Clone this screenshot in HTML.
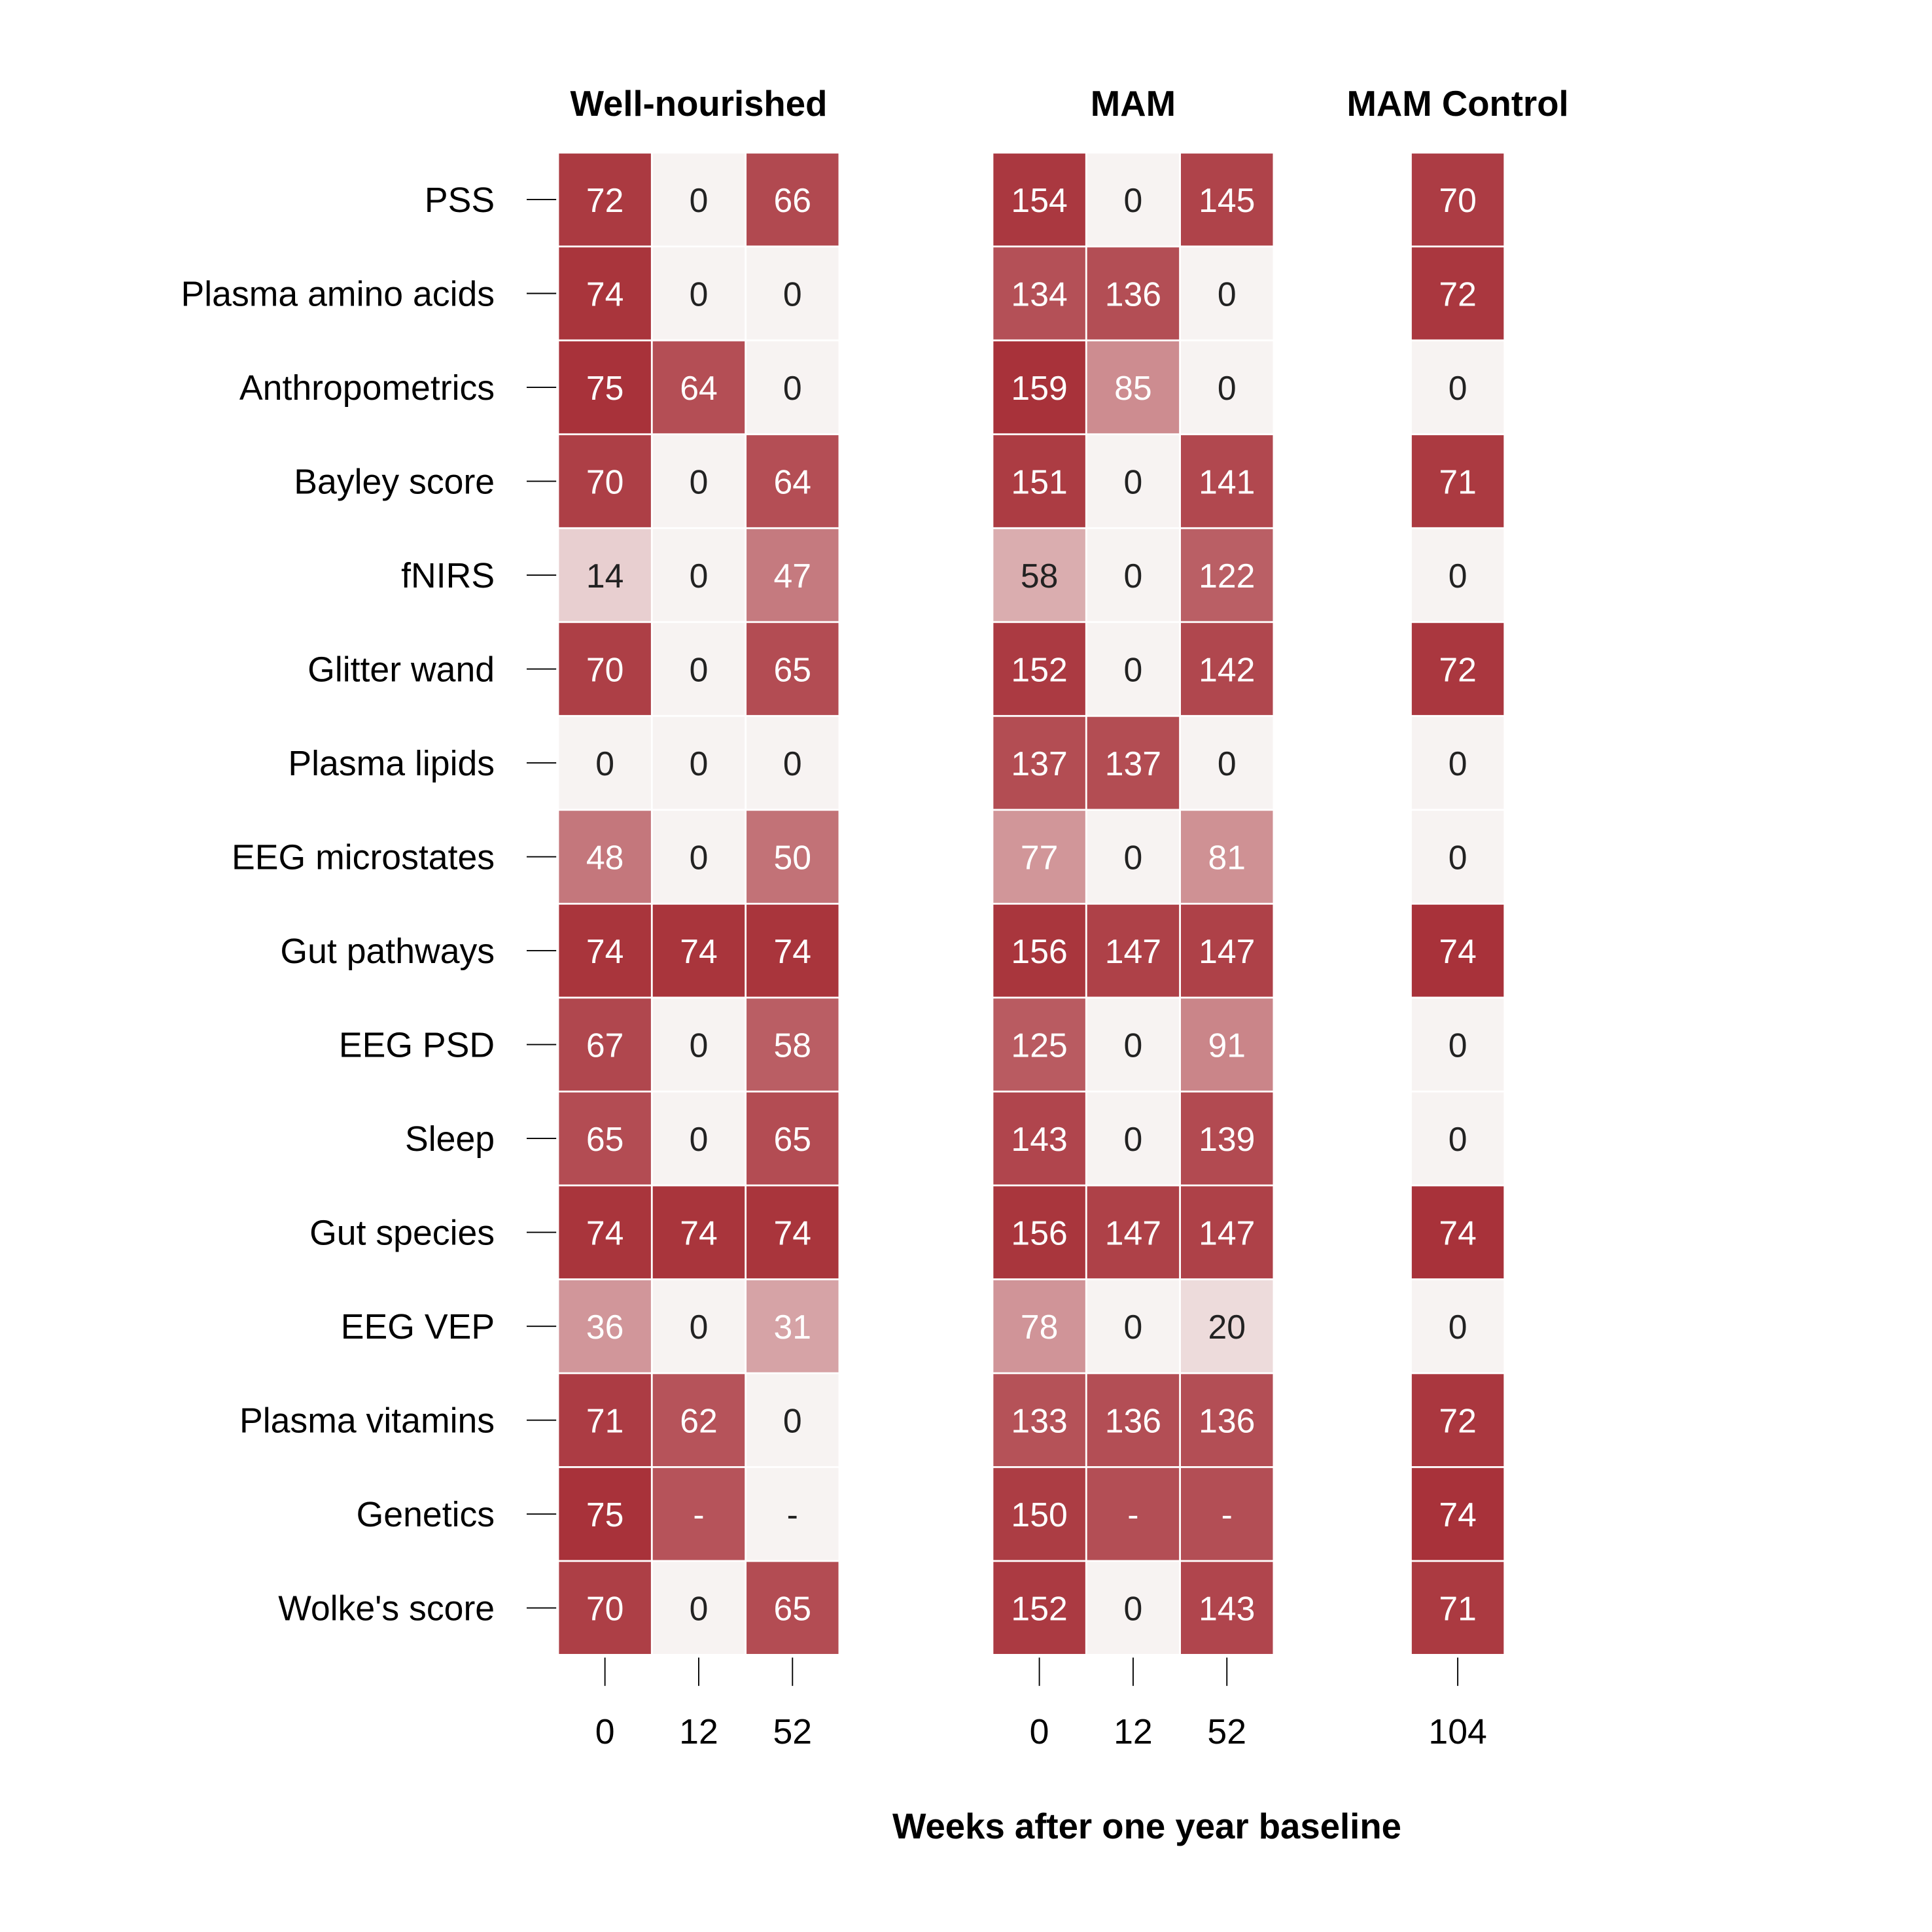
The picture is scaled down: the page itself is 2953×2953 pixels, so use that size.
<!DOCTYPE html>
<html><head><meta charset="utf-8"><style>
html,body{margin:0;padding:0;background:#fff;}
svg{display:block;}
text{font-family:"Liberation Sans",Arial,sans-serif;}
</style></head><body>
<svg id="chart" width="2953" height="2953" viewBox="0 0 1570 1570" xmlns="http://www.w3.org/2000/svg"></svg>
<script>
const rowLabels = ["PSS","Plasma amino acids","Anthropometrics","Bayley score","fNIRS","Glitter wand","Plasma lipids","EEG microstates","Gut pathways","EEG PSD","Sleep","Gut species","EEG VEP","Plasma vitamins","Genetics","Wolke's score"];
const wnWeeks = ["0","12","52"];
const mamWeeks = ["0","12","52"];
const ctlWeeks = ["104"];
const wnValues = [[72,0,66],[74,0,0],[75,64,0],[70,0,64],[14,0,47],[70,0,65],[0,0,0],[48,0,50],[74,74,74],[67,0,58],[65,0,65],[74,74,74],[36,0,31],[71,62,0],[75,"-","-"],[70,0,65]];
const mamValues = [[154,0,145],[134,136,0],[159,85,0],[151,0,141],[58,0,122],[152,0,142],[137,137,0],[77,0,81],[156,147,147],[125,0,91],[143,0,139],[156,147,147],[78,0,20],[133,136,136],[150,"-","-"],[152,0,143]];
const ctlValues = [[70],[72],[0],[71],[0],[72],[0],[0],[74],[0],[0],[74],[0],[72],[74],[71]];
// fill intensity used for "-" cells
const wnDashFill = [null,62,0];
const mamDashFill = [null,136,136];
const ctlDashFill = [null];
const panelTitles = ["Well-nourished","MAM","MAM Control"];

const svg = document.getElementById('chart');
const NS = "http://www.w3.org/2000/svg";
function mk(tag, attrs){const e=document.createElementNS(NS,tag);for(const k in attrs)e.setAttribute(k,attrs[k]);svg.appendChild(e);return e;}

const gridTop=124, rowH=76.3;
function yScale(i){return gridTop+i*rowH;}
const colW=76.2;
const panels=[
  {x0:453.5,weeks:wnWeeks,vals:wnValues,dash:wnDashFill,title:panelTitles[0],key:"well-nourished"},
  {x0:806.5,weeks:mamWeeks,vals:mamValues,dash:mamDashFill,title:panelTitles[1],key:"mam"},
  {x0:1146.5,weeks:ctlWeeks,vals:ctlValues,dash:ctlDashFill,title:panelTitles[2],key:"mam-control"}
];
const c0=[247,243,242], c1=[168,50,58];
function color(t){t=Math.max(0,Math.min(1,t));const c=c0.map((a,i)=>Math.round(a+(c1[i]-a)*t));return `rgb(${c[0]},${c[1]},${c[2]})`;}

rowLabels.forEach((lab,i)=>{
  const yc=yScale(i)+rowH/2;
  const t=mk('text',{x:402,y:yc+10,'text-anchor':'end','font-size':28.5,fill:'#000'});
  t.textContent=lab;
  
  
  const l=mk('line',{x1:428,x2:452,y1:yc,y2:yc,stroke:'#000','stroke-width':1});
  
  
});

panels.forEach(p=>{
  let max=0;p.vals.forEach(r=>r.forEach(v=>{if(typeof v==='number'&&v>max)max=v;}));
  const w=p.weeks.length*colW;
  const tt=mk('text',{x:p.x0+w/2,y:94,'text-anchor':'middle','font-size':29,'font-weight':'bold',fill:'#000'});
  tt.textContent=p.title;
  
  
  p.vals.forEach((row,i)=>{
    row.forEach((v,j)=>{
      const fv = (typeof v==='number')? v : (p.dash[j]||0);
      const t=fv/max;
      const x=p.x0+j*colW, y=yScale(i);
      const r=mk('rect',{x:x+0.75,y:y+0.75,width:colW-1.5,height:rowH-1.5,fill:color(t)});
      
      
      const tx=mk('text',{x:x+colW/2,y:y+rowH/2+10,'text-anchor':'middle','font-size':27.5,fill:t>0.39?'#fff':'#222'});
      tx.textContent=String(v);
      
      
    });
  });
  p.weeks.forEach((wk,j)=>{
    const xc=p.x0+j*colW+colW/2;
    const l=mk('line',{x1:xc,x2:xc,y1:1347,y2:1370,stroke:'#000','stroke-width':1});
    
    
    const t=mk('text',{x:xc,y:1417,'text-anchor':'middle','font-size':28.5,fill:'#000'});
    t.textContent=wk;
    
    
  });
});
const xt=mk('text',{x:932,y:1494,'text-anchor':'middle','font-size':29,'font-weight':'bold',fill:'#000'});
xt.textContent="Weeks after one year baseline";


</script>
</body></html>
